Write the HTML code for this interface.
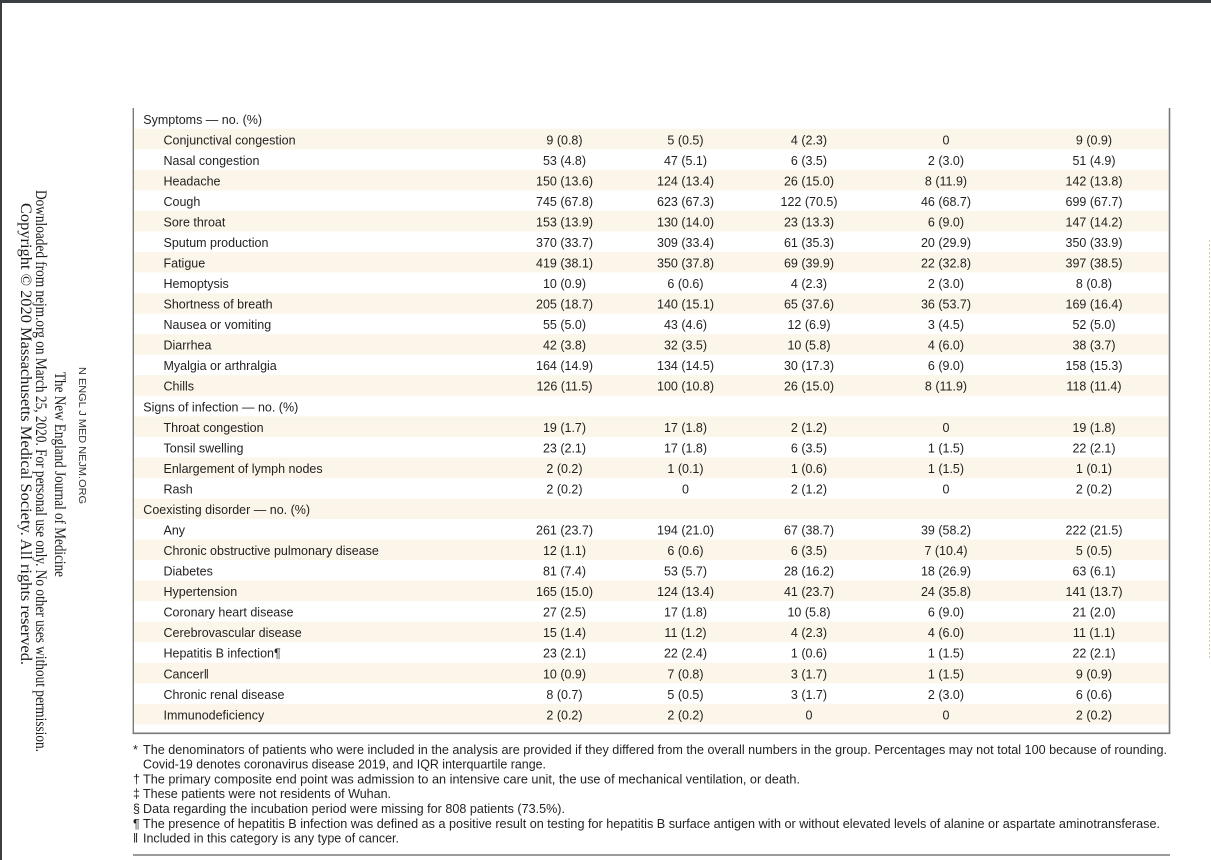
<!DOCTYPE html>
<html>
<head>
<meta charset="utf-8">
<style>
  html,body{margin:0;padding:0;background:#fff;}
  body{width:1211px;height:860px;overflow:hidden;}
  svg{display:block;}
  .t{font-family:"Liberation Sans",Arial,sans-serif;font-size:12.5px;fill:#231f20;}
  .n{font-family:"Liberation Sans",Arial,sans-serif;font-size:12.5px;fill:#231f20;text-anchor:middle;}
  .s{font-family:"Liberation Serif","Times New Roman",serif;font-size:16px;fill:#1a1a1a;}
  .k{font-family:"Liberation Sans",Arial,sans-serif;font-size:10px;fill:#333;}
</style>
</head>
<body>
<svg width="1211" height="860" viewBox="0 0 1211 860" xmlns="http://www.w3.org/2000/svg">
  <rect x="0" y="0" width="1211" height="860" fill="#fff"/>
  <rect x="0" y="0" width="1211" height="3" fill="#3c3f41"/>
  <rect x="0" y="0" width="2" height="860" fill="#3c3f41"/>

  <text class="s" transform="translate(21,203) rotate(90)" textLength="462" lengthAdjust="spacingAndGlyphs">Copyright © 2020 Massachusetts Medical Society. All rights reserved.</text>
  <text class="s" transform="translate(36,190) rotate(90)" textLength="562" lengthAdjust="spacingAndGlyphs">Downloaded from nejm.org on March 25, 2020. For personal use only. No other uses without permission.</text>
  <text class="s" transform="translate(55,372) rotate(90)" textLength="205" lengthAdjust="spacingAndGlyphs">The New England Journal of Medicine</text>
  <text class="k" transform="translate(79,367) rotate(90)" textLength="137" lengthAdjust="spacingAndGlyphs">N ENGL J MED    NEJM.ORG</text>

  <line x1="1209.5" y1="240" x2="1209.5" y2="658" stroke="#d49a6a" stroke-width="1" stroke-dasharray="2,2" opacity="0.55"/>

  <g fill="#fcf5e9">
    <rect x="134" y="128.8" width="1034.5" height="20.54"/>
    <rect x="134" y="169.9" width="1034.5" height="20.54"/>
    <rect x="134" y="210.9" width="1034.5" height="20.54"/>
    <rect x="134" y="252.0" width="1034.5" height="20.54"/>
    <rect x="134" y="293.1" width="1034.5" height="20.54"/>
    <rect x="134" y="334.2" width="1034.5" height="20.54"/>
    <rect x="134" y="375.2" width="1034.5" height="20.54"/>
    <rect x="134" y="416.3" width="1034.5" height="20.54"/>
    <rect x="134" y="457.4" width="1034.5" height="20.54"/>
    <rect x="134" y="498.5" width="1034.5" height="20.54"/>
    <rect x="134" y="539.5" width="1034.5" height="20.54"/>
    <rect x="134" y="580.6" width="1034.5" height="20.54"/>
    <rect x="134" y="621.7" width="1034.5" height="20.54"/>
    <rect x="134" y="662.8" width="1034.5" height="20.54"/>
    <rect x="134" y="703.8" width="1034.5" height="20.54"/>
  </g>

  <line x1="133.3" y1="108" x2="133.3" y2="733.8" stroke="#7a7a7a" stroke-width="1.4"/>
  <line x1="1169.5" y1="108" x2="1169.5" y2="733.8" stroke="#7a7a7a" stroke-width="1.6"/>
  <line x1="132.6" y1="733.3" x2="1170.3" y2="733.3" stroke="#7a7a7a" stroke-width="1.6"/>
  <line x1="133" y1="855" x2="1170" y2="855" stroke="#7a7a7a" stroke-width="1.6"/>

  <g class="t">
    <text x="143.3" y="123.8">Symptoms — no. (%)</text>
    <text x="163.5" y="144.3">Conjunctival congestion</text>
    <text x="163.5" y="164.8">Nasal congestion</text>
    <text x="163.5" y="185.4">Headache</text>
    <text x="163.5" y="205.9">Cough</text>
    <text x="163.5" y="226.4">Sore throat</text>
    <text x="163.5" y="247.0">Sputum production</text>
    <text x="163.5" y="267.5">Fatigue</text>
    <text x="163.5" y="288.1">Hemoptysis</text>
    <text x="163.5" y="308.6">Shortness of breath</text>
    <text x="163.5" y="329.1">Nausea or vomiting</text>
    <text x="163.5" y="349.7">Diarrhea</text>
    <text x="163.5" y="370.2">Myalgia or arthralgia</text>
    <text x="163.5" y="390.7">Chills</text>
    <text x="143.3" y="411.3">Signs of infection — no. (%)</text>
    <text x="163.5" y="431.8">Throat congestion</text>
    <text x="163.5" y="452.4">Tonsil swelling</text>
    <text x="163.5" y="472.9">Enlargement of lymph nodes</text>
    <text x="163.5" y="493.4">Rash</text>
    <text x="143.3" y="514.0">Coexisting disorder — no. (%)</text>
    <text x="163.5" y="534.5">Any</text>
    <text x="163.5" y="555.0">Chronic obstructive pulmonary disease</text>
    <text x="163.5" y="575.6">Diabetes</text>
    <text x="163.5" y="596.1">Hypertension</text>
    <text x="163.5" y="616.7">Coronary heart disease</text>
    <text x="163.5" y="637.2">Cerebrovascular disease</text>
    <text x="163.5" y="657.7">Hepatitis B infection¶</text>
    <text x="163.5" y="678.3">Cancer‖</text>
    <text x="163.5" y="698.8">Chronic renal disease</text>
    <text x="163.5" y="719.3">Immunodeficiency</text>
  </g>

  <g class="n">
    <text x="564.5" y="144.3">9 (0.8)</text>
    <text x="564.5" y="164.8">53 (4.8)</text>
    <text x="564.5" y="185.4">150 (13.6)</text>
    <text x="564.5" y="205.9">745 (67.8)</text>
    <text x="564.5" y="226.4">153 (13.9)</text>
    <text x="564.5" y="247.0">370 (33.7)</text>
    <text x="564.5" y="267.5">419 (38.1)</text>
    <text x="564.5" y="288.1">10 (0.9)</text>
    <text x="564.5" y="308.6">205 (18.7)</text>
    <text x="564.5" y="329.1">55 (5.0)</text>
    <text x="564.5" y="349.7">42 (3.8)</text>
    <text x="564.5" y="370.2">164 (14.9)</text>
    <text x="564.5" y="390.7">126 (11.5)</text>
    <text x="564.5" y="431.8">19 (1.7)</text>
    <text x="564.5" y="452.4">23 (2.1)</text>
    <text x="564.5" y="472.9">2 (0.2)</text>
    <text x="564.5" y="493.4">2 (0.2)</text>
    <text x="564.5" y="534.5">261 (23.7)</text>
    <text x="564.5" y="555.0">12 (1.1)</text>
    <text x="564.5" y="575.6">81 (7.4)</text>
    <text x="564.5" y="596.1">165 (15.0)</text>
    <text x="564.5" y="616.7">27 (2.5)</text>
    <text x="564.5" y="637.2">15 (1.4)</text>
    <text x="564.5" y="657.7">23 (2.1)</text>
    <text x="564.5" y="678.3">10 (0.9)</text>
    <text x="564.5" y="698.8">8 (0.7)</text>
    <text x="564.5" y="719.3">2 (0.2)</text>
  </g>

  <g class="n">
    <text x="685.5" y="144.3">5 (0.5)</text>
    <text x="685.5" y="164.8">47 (5.1)</text>
    <text x="685.5" y="185.4">124 (13.4)</text>
    <text x="685.5" y="205.9">623 (67.3)</text>
    <text x="685.5" y="226.4">130 (14.0)</text>
    <text x="685.5" y="247.0">309 (33.4)</text>
    <text x="685.5" y="267.5">350 (37.8)</text>
    <text x="685.5" y="288.1">6 (0.6)</text>
    <text x="685.5" y="308.6">140 (15.1)</text>
    <text x="685.5" y="329.1">43 (4.6)</text>
    <text x="685.5" y="349.7">32 (3.5)</text>
    <text x="685.5" y="370.2">134 (14.5)</text>
    <text x="685.5" y="390.7">100 (10.8)</text>
    <text x="685.5" y="431.8">17 (1.8)</text>
    <text x="685.5" y="452.4">17 (1.8)</text>
    <text x="685.5" y="472.9">1 (0.1)</text>
    <text x="685.5" y="493.4">0</text>
    <text x="685.5" y="534.5">194 (21.0)</text>
    <text x="685.5" y="555.0">6 (0.6)</text>
    <text x="685.5" y="575.6">53 (5.7)</text>
    <text x="685.5" y="596.1">124 (13.4)</text>
    <text x="685.5" y="616.7">17 (1.8)</text>
    <text x="685.5" y="637.2">11 (1.2)</text>
    <text x="685.5" y="657.7">22 (2.4)</text>
    <text x="685.5" y="678.3">7 (0.8)</text>
    <text x="685.5" y="698.8">5 (0.5)</text>
    <text x="685.5" y="719.3">2 (0.2)</text>
  </g>

  <g class="n">
    <text x="809" y="144.3">4 (2.3)</text>
    <text x="809" y="164.8">6 (3.5)</text>
    <text x="809" y="185.4">26 (15.0)</text>
    <text x="809" y="205.9">122 (70.5)</text>
    <text x="809" y="226.4">23 (13.3)</text>
    <text x="809" y="247.0">61 (35.3)</text>
    <text x="809" y="267.5">69 (39.9)</text>
    <text x="809" y="288.1">4 (2.3)</text>
    <text x="809" y="308.6">65 (37.6)</text>
    <text x="809" y="329.1">12 (6.9)</text>
    <text x="809" y="349.7">10 (5.8)</text>
    <text x="809" y="370.2">30 (17.3)</text>
    <text x="809" y="390.7">26 (15.0)</text>
    <text x="809" y="431.8">2 (1.2)</text>
    <text x="809" y="452.4">6 (3.5)</text>
    <text x="809" y="472.9">1 (0.6)</text>
    <text x="809" y="493.4">2 (1.2)</text>
    <text x="809" y="534.5">67 (38.7)</text>
    <text x="809" y="555.0">6 (3.5)</text>
    <text x="809" y="575.6">28 (16.2)</text>
    <text x="809" y="596.1">41 (23.7)</text>
    <text x="809" y="616.7">10 (5.8)</text>
    <text x="809" y="637.2">4 (2.3)</text>
    <text x="809" y="657.7">1 (0.6)</text>
    <text x="809" y="678.3">3 (1.7)</text>
    <text x="809" y="698.8">3 (1.7)</text>
    <text x="809" y="719.3">0</text>
  </g>

  <g class="n">
    <text x="946" y="144.3">0</text>
    <text x="946" y="164.8">2 (3.0)</text>
    <text x="946" y="185.4">8 (11.9)</text>
    <text x="946" y="205.9">46 (68.7)</text>
    <text x="946" y="226.4">6 (9.0)</text>
    <text x="946" y="247.0">20 (29.9)</text>
    <text x="946" y="267.5">22 (32.8)</text>
    <text x="946" y="288.1">2 (3.0)</text>
    <text x="946" y="308.6">36 (53.7)</text>
    <text x="946" y="329.1">3 (4.5)</text>
    <text x="946" y="349.7">4 (6.0)</text>
    <text x="946" y="370.2">6 (9.0)</text>
    <text x="946" y="390.7">8 (11.9)</text>
    <text x="946" y="431.8">0</text>
    <text x="946" y="452.4">1 (1.5)</text>
    <text x="946" y="472.9">1 (1.5)</text>
    <text x="946" y="493.4">0</text>
    <text x="946" y="534.5">39 (58.2)</text>
    <text x="946" y="555.0">7 (10.4)</text>
    <text x="946" y="575.6">18 (26.9)</text>
    <text x="946" y="596.1">24 (35.8)</text>
    <text x="946" y="616.7">6 (9.0)</text>
    <text x="946" y="637.2">4 (6.0)</text>
    <text x="946" y="657.7">1 (1.5)</text>
    <text x="946" y="678.3">1 (1.5)</text>
    <text x="946" y="698.8">2 (3.0)</text>
    <text x="946" y="719.3">0</text>
  </g>

  <g class="n">
    <text x="1094" y="144.3">9 (0.9)</text>
    <text x="1094" y="164.8">51 (4.9)</text>
    <text x="1094" y="185.4">142 (13.8)</text>
    <text x="1094" y="205.9">699 (67.7)</text>
    <text x="1094" y="226.4">147 (14.2)</text>
    <text x="1094" y="247.0">350 (33.9)</text>
    <text x="1094" y="267.5">397 (38.5)</text>
    <text x="1094" y="288.1">8 (0.8)</text>
    <text x="1094" y="308.6">169 (16.4)</text>
    <text x="1094" y="329.1">52 (5.0)</text>
    <text x="1094" y="349.7">38 (3.7)</text>
    <text x="1094" y="370.2">158 (15.3)</text>
    <text x="1094" y="390.7">118 (11.4)</text>
    <text x="1094" y="431.8">19 (1.8)</text>
    <text x="1094" y="452.4">22 (2.1)</text>
    <text x="1094" y="472.9">1 (0.1)</text>
    <text x="1094" y="493.4">2 (0.2)</text>
    <text x="1094" y="534.5">222 (21.5)</text>
    <text x="1094" y="555.0">5 (0.5)</text>
    <text x="1094" y="575.6">63 (6.1)</text>
    <text x="1094" y="596.1">141 (13.7)</text>
    <text x="1094" y="616.7">21 (2.0)</text>
    <text x="1094" y="637.2">11 (1.1)</text>
    <text x="1094" y="657.7">22 (2.1)</text>
    <text x="1094" y="678.3">9 (0.9)</text>
    <text x="1094" y="698.8">6 (0.6)</text>
    <text x="1094" y="719.3">2 (0.2)</text>
  </g>

  <g class="t">
    <text x="133" y="753.8">*</text>
    <text x="143" y="753.8" textLength="1024" lengthAdjust="spacingAndGlyphs">The denominators of patients who were included in the analysis are provided if they differed from the overall numbers in the group. Percentages may not total 100 because of rounding.</text>
    <text x="143" y="768.6" textLength="403" lengthAdjust="spacingAndGlyphs">Covid-19 denotes coronavirus disease 2019, and IQR interquartile range.</text>
    <text x="133" y="783.4">†</text>
    <text x="143" y="783.4" textLength="657" lengthAdjust="spacingAndGlyphs">The primary composite end point was admission to an intensive care unit, the use of mechanical ventilation, or death.</text>
    <text x="133" y="798.2">‡</text>
    <text x="143" y="798.2" textLength="248" lengthAdjust="spacingAndGlyphs">These patients were not residents of Wuhan.</text>
    <text x="133" y="813.0">§</text>
    <text x="143" y="813.0" textLength="422" lengthAdjust="spacingAndGlyphs">Data regarding the incubation period were missing for 808 patients (73.5%).</text>
    <text x="133" y="827.8">¶</text>
    <text x="143" y="827.8" textLength="1017" lengthAdjust="spacingAndGlyphs">The presence of hepatitis B infection was defined as a positive result on testing for hepatitis B surface antigen with or without elevated levels of alanine or aspartate aminotransferase.</text>
    <text x="133" y="842.6">‖</text>
    <text x="143" y="842.6" textLength="256" lengthAdjust="spacingAndGlyphs">Included in this category is any type of cancer.</text>
  </g>
</svg>
</body>
</html>
